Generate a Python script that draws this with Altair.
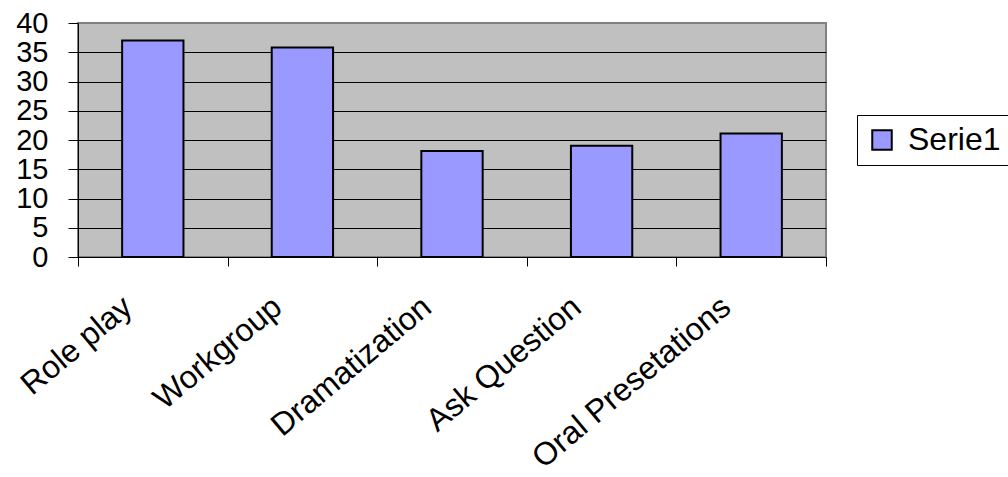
import altair as alt
import pandas as pd

# Teaching methods and their scores
categories = ["Role play", "Workgroup", "Dramatization", "Ask Question", "Oral Presetations"]
values = [37.0, 35.8, 18.1, 19.0, 21.1]
series_name = "Serie1"
y_ticks = [0, 5, 10, 15, 20, 25, 30, 35, 40]

df = pd.DataFrame({
    "method": categories,
    "value": values,
    "series": [series_name] * len(categories),
})

FONT = "Liberation Sans"

chart = (
    alt.Chart(df)
    .mark_bar(stroke="black", strokeWidth=2, fillOpacity=1, width=alt.RelativeBandSize(0.41))
    .encode(
        x=alt.X(
            "method:N",
            sort=categories,
            title=None,
            scale=alt.Scale(paddingInner=0, paddingOuter=0),
            axis=alt.Axis(
                labelAngle=-40,
                labelAlign="right",
                labelBaseline="alphabetic",
                labelFont=FONT,
                labelFontSize=32,
                labelColor="black",
                labelLimit=500,
                labelOffset=-19,
                labelPadding=44,
                tickSize=9,
                tickBand="extent",
                tickColor="black",
                domainColor="black",
                grid=False,
            ),
        ),
        y=alt.Y(
            "value:Q",
            title=None,
            scale=alt.Scale(domain=[0, 40], nice=False),
            axis=alt.Axis(
                values=y_ticks,
                grid=True,
                # the top gridline blends into the grey frame of the plot
                gridColor=alt.condition("datum.value === 40", alt.value("#808080"), alt.value("black")),
                gridWidth=1,
                gridOpacity=1,
                tickSize=10,
                tickColor="black",
                domainColor="black",
                labelFont=FONT,
                labelFontSize=29,
                labelColor="black",
                labelPadding=20,
            ),
        ),
        color=alt.Color(
            "series:N",
            scale=alt.Scale(range=["#9999FF"]),
            legend=alt.Legend(
                title=None,
                orient="none",
                legendX=779,
                legendY=92,
                padding=9,
                strokeColor="black",
                fillColor="white",
                symbolType="square",
                symbolSize=380,
                symbolStrokeColor="black",
                symbolStrokeWidth=2,
                symbolOpacity=1,
                labelFont=FONT,
                labelFontSize=32,
                labelColor="black",
                labelOffset=10,
            ),
        ),
    )
    .properties(
        width=748,
        height=234,
        autosize=alt.AutoSizeParams(type="none"),
        padding={"left": 78, "top": 23, "right": 182, "bottom": 220},
        background="white",
    )
    .configure_view(fill="#C0C0C0", stroke="#808080", strokeWidth=2)
)

chart.save("out.html", embed_options={"renderer": "svg", "actions": False})
